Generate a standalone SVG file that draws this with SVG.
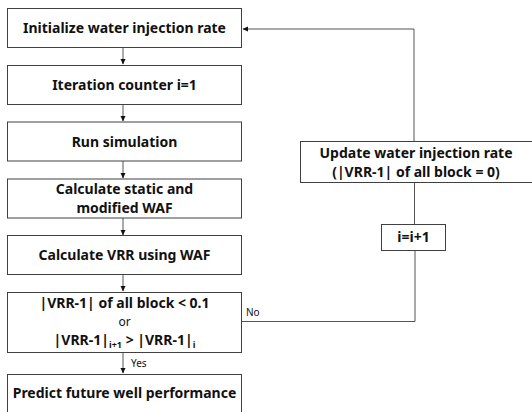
<svg xmlns="http://www.w3.org/2000/svg" width="532" height="412" viewBox="0 0 532 412">
<style>
.box{fill:#fff;stroke:#404040;stroke-width:1}
.t{font-family:"Noto Sans","Open Sans",sans-serif;font-weight:bold;font-size:14px;fill:#111;text-anchor:middle}
.s{font-family:"Noto Sans","Open Sans",sans-serif;font-size:10px;fill:#111}
.ln{fill:none;stroke:#555;stroke-width:1}
</style>
<defs>
<marker id="ah" markerWidth="6" markerHeight="6" refX="5" refY="3" orient="auto" markerUnits="userSpaceOnUse">
<path d="M0,0.5 L5.5,3 L0,5.5 Z" fill="#111"/>
</marker>
</defs>
<g id="connectors">
<line class="ln" x1="123" y1="47" x2="123" y2="64" marker-end="url(#ah)"/>
<line class="ln" x1="123" y1="104" x2="123" y2="121" marker-end="url(#ah)"/>
<line class="ln" x1="123" y1="161" x2="123" y2="178" marker-end="url(#ah)"/>
<line class="ln" x1="123" y1="218" x2="123" y2="235" marker-end="url(#ah)"/>
<line class="ln" x1="123" y1="274" x2="123" y2="291" marker-end="url(#ah)"/>
<line class="ln" x1="123" y1="352" x2="123" y2="373" marker-end="url(#ah)"/>
<polyline class="ln" points="242,321.5 415,321.5 415,250"/>
<line class="ln" x1="414.5" y1="224" x2="414.5" y2="183"/>
<polyline class="ln" points="414,141 414,29 243,29" marker-end="url(#ah)"/>
<text class="s" x="246" y="316">No</text>
<text class="s" x="131" y="367">Yes</text>
</g>
<g id="n1"><rect class="box" x="7.5" y="8.5" width="234" height="39"/><text class="t" x="124.5" y="33">Initialize water injection rate</text></g>
<g id="n2"><rect class="box" x="7.5" y="65.5" width="234" height="39"/><text class="t" x="124.5" y="90">Iteration counter i=1</text></g>
<g id="n3"><rect class="box" x="7.5" y="122" width="234" height="39"/><text class="t" x="124.5" y="147">Run simulation</text></g>
<g id="n4"><rect class="box" x="7.5" y="179" width="234" height="39"/><text class="t" x="124.5" y="194">Calculate static and</text><text class="t" x="124.5" y="212.5">modified WAF</text></g>
<g id="n5"><rect class="box" x="7.5" y="235.5" width="234" height="39"/><text class="t" x="124.5" y="260">Calculate VRR using WAF</text></g>
<g id="n6"><rect class="box" x="7.5" y="292.5" width="234" height="60"/>
<text class="t" x="124.5" y="308">|VRR-1| of all block &lt; 0.1</text>
<text class="t" x="124.5" y="326" style="font-weight:normal;font-size:12px">or</text>
<text class="t" x="124.5" y="345">|VRR-1|<tspan font-size="9" dy="3">i+1</tspan><tspan dy="-3"> &gt; |VRR-1|</tspan><tspan font-size="9" dy="3">i</tspan></text>
</g>
<g id="n7"><rect class="box" x="7.5" y="374.5" width="234" height="45"/><text class="t" x="124.5" y="398">Predict future well performance</text></g>
<g id="n8"><rect class="box" x="300.5" y="141.5" width="232" height="41"/><text class="t" x="416" y="158">Update water injection rate</text><text class="t" x="416" y="176.5">(|VRR-1| of all block = 0)</text></g>
<g id="n9"><rect class="box" x="381.5" y="224.5" width="64" height="26"/><text class="t" x="413.5" y="242">i=i+1</text></g>
</svg>
